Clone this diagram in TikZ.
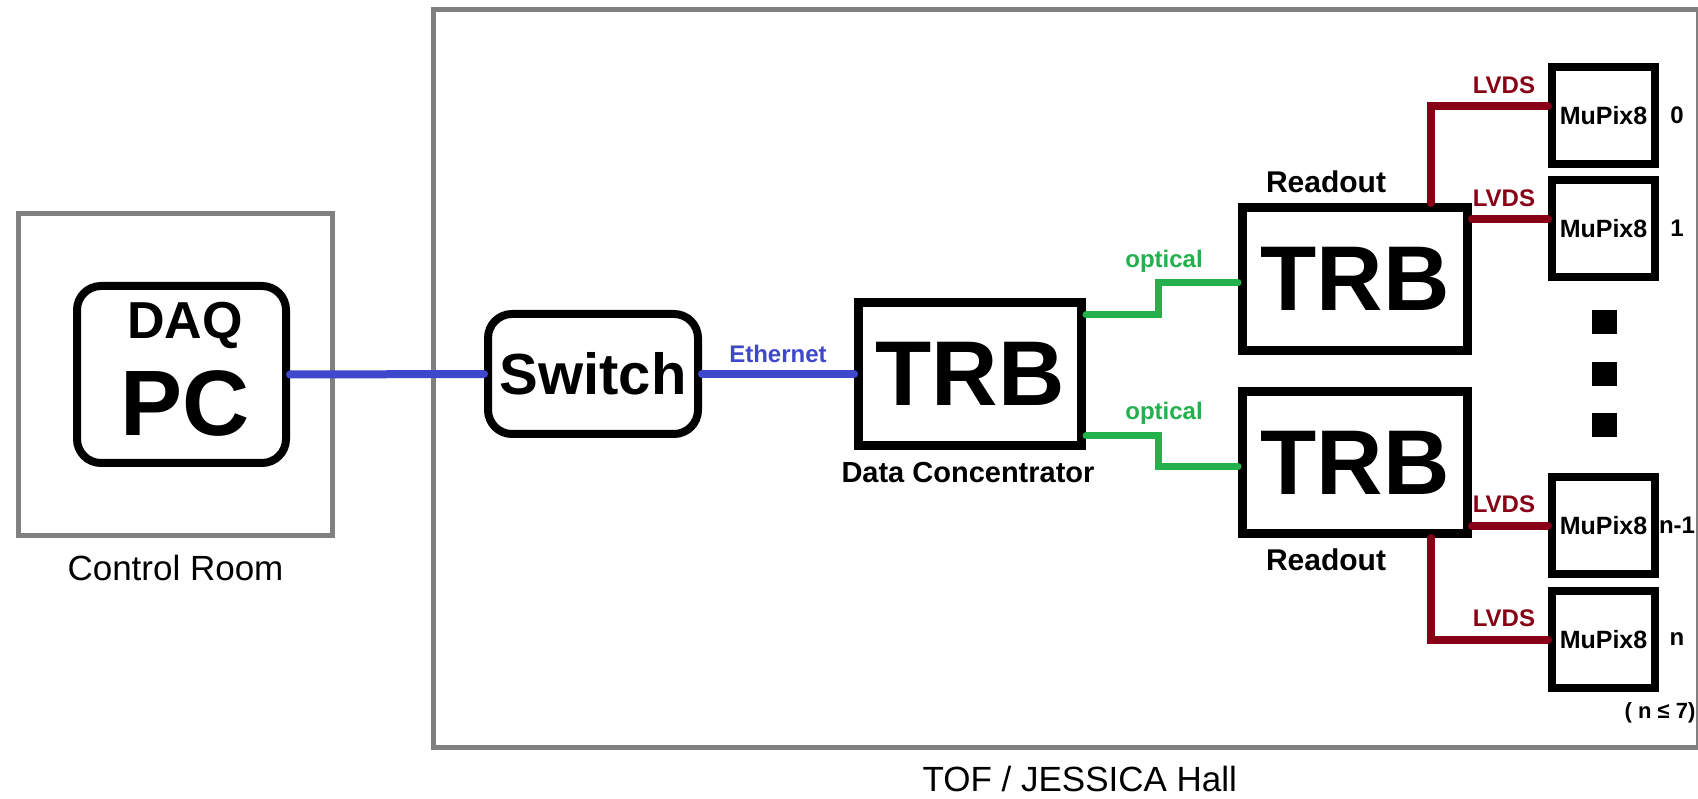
\documentclass[tikz,border=0pt]{standalone}
\usepackage{fontspec}
\setmainfont{Liberation Sans}
\usetikzlibrary{positioning}
\definecolor{ethblue}{RGB}{63,72,204}
\definecolor{optgreen}{RGB}{34,177,76}
\definecolor{lvdsred}{RGB}{136,0,21}
\definecolor{roomgray}{RGB}{128,128,128}
\newcommand{\fsz}[1]{\fontsize{#1}{#1}\selectfont}
\begin{document}
\begin{tikzpicture}[x=1pt, y=-1pt,
    room/.style={draw=roomgray, line width=5pt, inner sep=0pt},
    roomlbl/.style={inner sep=0pt, font=\fsz{35}},
    rbox/.style={draw, line width=8pt, rounded corners=24pt, inner sep=0pt},
    trb/.style={draw, line width=9pt, inner sep=0pt, font=\bfseries\fsz{92}},
    mupix/.style={draw, line width=8pt, inner sep=0pt, font=\bfseries\fsz{25},
                  minimum width=103pt, minimum height=97pt},
    lbl/.style={inner sep=0pt, font=\bfseries\fsz{24}},
    eth/.style={draw=ethblue, line width=8pt, line cap=round},
    opt/.style={draw=optgreen, line width=7pt, line cap=round},
    lvds/.style={draw=lvdsred, line width=8pt, line cap=round},
    lvdslbl/.style={lbl, text=lvdsred, anchor=south east, xshift=-9pt, yshift=9pt}]
    \useasboundingbox (0,0) rectangle (1698,799);
    \fill[white] (0,0) rectangle (1698,799);
    % rooms
    \node[room, minimum width=314pt, minimum height=322pt] (ctrl) at (175.5,374.5) {};
    \node[roomlbl, below=17pt of ctrl] (ctrllbl) {Control Room};
    \node[room, minimum width=1264.5pt, minimum height=737.5pt] (hall) at (1065.75,378.25) {};
    \node[roomlbl, below=16pt of hall, xshift=14pt] (halllbl) {TOF / JESSICA Hall};
    % DAQ PC and switch
    \node[rbox, minimum width=209pt, minimum height=177pt] (pc) at (181.5,374.5) {};
    \node[lbl, font=\bfseries\fsz{52}] (daqtxt) at ([xshift=3.5pt, yshift=49.5pt]pc.center) {DAQ};
    \node[lbl, font=\bfseries\fsz{93}] (pctxt) at ([xshift=3.5pt, yshift=-28.5pt]pc.center) {PC};
    \node[rbox, font=\bfseries\fsz{58}, minimum width=210pt, minimum height=120pt] (switch) at (593,374) {Switch};
    % TRBs
    \node[trb, minimum width=223pt, minimum height=143pt] (dc) at (970,374) {TRB};
    \node[lbl, font=\bfseries\fsz{29}, below=12.5pt of dc, xshift=-2pt] (dclbl) {Data Concentrator};
    \node[trb, minimum width=225pt, minimum height=143pt] (rtop) at (1355,279) {TRB};
    \node[lbl, font=\bfseries\fsz{30}, above=10pt of rtop.north, xshift=-29pt] (rtoplbl) {Readout};
    \node[trb, minimum width=225pt, minimum height=142pt] (rbot) at (1355,462.5) {TRB};
    \node[lbl, font=\bfseries\fsz{30}, below=11pt of rbot.south, xshift=-29pt] (rbotlbl) {Readout};
    % sensors
    \node[mupix] (m0) at (1603.5,115.5) {MuPix8};
    \node[mupix] (m1) at (1603.5,228.5) {MuPix8};
    \node[mupix] (mn1) at (1603.5,525.5) {MuPix8};
    \node[mupix] (mn) at (1603.5,639.5) {MuPix8};
    \foreach \m/\i in {m0/0, m1/1, mn1/n-1, mn/n}
        \node[lbl] (idx-\m) at ([xshift=18pt]\m.east) {\i};
    \foreach \y in {322,374,425}
        \fill (1591.5,\y-12) rectangle ++(25,24);
    \node[lbl, font=\bfseries\fsz{22}, below=10pt of mn.south east, xshift=1pt] (nmax) {( n ≤ 7)};
    % links
    \draw[eth] (pc.east) -- (switch.west);
    \draw[eth] (switch.east) -- node[lbl, text=ethblue, above=7pt] {Ethernet} (dc.west);
    \draw[opt] ([yshift=-17pt]dc.north east) -- ++(72,0)
        |- node[pos=0.5, lbl, text=optgreen, above=7pt, xshift=6pt] {optical} ([yshift=-4pt]rtop.west);
    \draw[opt] ([yshift=14pt]dc.south east)
        -- node[pos=1, lbl, text=optgreen, above=8pt, xshift=6pt] {optical} ++(72,0)
        |- ([yshift=-4pt]rbot.west);
    \draw[lvds] ([xshift=76pt]rtop.north) |- node[pos=1, lvdslbl] {LVDS} ([yshift=9pt]m0.west);
    \draw[lvds] ([yshift=9pt]rtop.east |- m1.west) -- node[pos=1, lvdslbl] {LVDS} ([yshift=9pt]m1.west);
    \draw[lvds] (rbot.east |- mn1.west) -- node[pos=1, lvdslbl] {LVDS} (mn1.west);
    \draw[lvds] ([xshift=76pt]rbot.south) |- node[pos=1, lvdslbl] {LVDS} (mn.west);
\end{tikzpicture}
\end{document}
